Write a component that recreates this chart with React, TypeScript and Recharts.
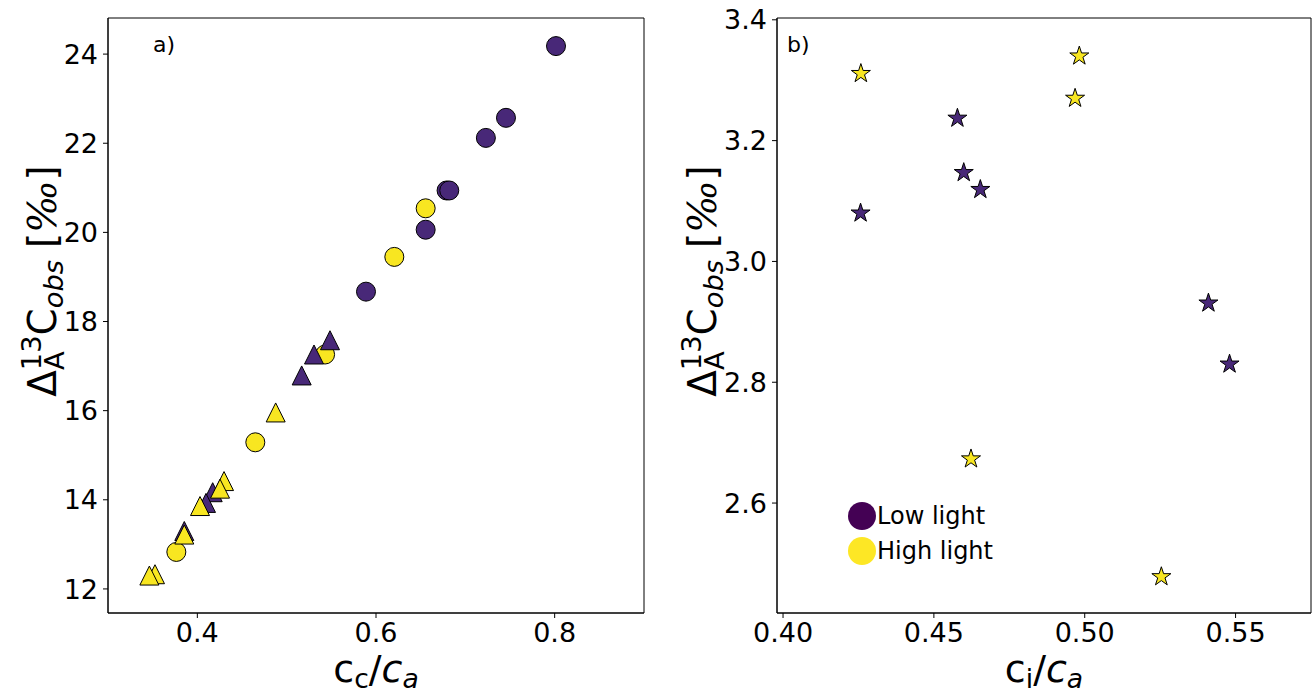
import React from 'react';
import { ScatterChart, Scatter, XAxis, YAxis, ReferenceArea, Legend } from 'recharts';

// ---------- data ----------
// Panel a): Delta vs cc/ca
const lowCircles = [
  { x: 0.8015, y: 24.18 },
  { x: 0.7455, y: 22.57 },
  { x: 0.723, y: 22.12 },
  { x: 0.679, y: 20.94 },
  { x: 0.682, y: 20.94 },
  { x: 0.6556, y: 20.06 },
  { x: 0.5888, y: 18.67 },
];
const highCircles = [
  { x: 0.6556, y: 20.54 },
  { x: 0.6205, y: 19.45 },
  { x: 0.543, y: 17.26 },
  { x: 0.4649, y: 15.29 },
  { x: 0.3765, y: 12.83 },
];
const lowTriangles = [
  { x: 0.5485, y: 17.58 },
  { x: 0.5306, y: 17.26 },
  { x: 0.5168, y: 16.79 },
  { x: 0.4172, y: 14.17 },
  { x: 0.4097, y: 13.93 },
  { x: 0.3854, y: 13.3 },
];
const highTriangles = [
  { x: 0.4877, y: 15.96 },
  { x: 0.4299, y: 14.42 },
  { x: 0.4254, y: 14.25 },
  { x: 0.403, y: 13.86 },
  { x: 0.3854, y: 13.22 },
  { x: 0.3526, y: 12.33 },
  { x: 0.3463, y: 12.3 },
];
// Panel b): Delta vs ci/ca
const lowStars = [
  { x: 0.4578, y: 3.237 },
  { x: 0.4599, y: 3.147 },
  { x: 0.4654, y: 3.119 },
  { x: 0.4257, y: 3.08 },
  { x: 0.541, y: 2.931 },
  { x: 0.548, y: 2.83 },
];
const highStars = [
  { x: 0.4258, y: 3.311 },
  { x: 0.4982, y: 3.34 },
  { x: 0.4968, y: 3.27 },
  { x: 0.4623, y: 2.673 },
  { x: 0.5254, y: 2.478 },
];

const aXTicks = [0.4, 0.6, 0.8];
const aYTicks = [12, 14, 16, 18, 20, 22, 24];
const bXTicks = [0.4, 0.45, 0.5, 0.55];
const bYTicks = [2.6, 2.8, 3.0, 3.2, 3.4];
const aXDomain = [0.3, 0.9];
const aYDomain = [11.46, 24.81];
const bXDomain = [0.398, 0.575];
const bYDomain = [2.418, 3.403];

const legendItems = [
  { label: 'Low light', color: '#440154' },
  { label: 'High light', color: '#fde725' },
];

// ---------- styles ----------
const FONT = "'DejaVu Sans', sans-serif";
const PURPLE = '#482878';
const YELLOW = '#f8e621';
const tickStyle = { fontSize: 27, fill: '#000', fontFamily: FONT };

const circleShape = (color: string) => (p: any) => (
  <circle cx={p.cx} cy={p.cy} r={9.5} fill={color} stroke="#000" strokeWidth={1} />
);
const triangleShape = (color: string) => (p: any) => {
  const h = 9.5;
  return (
    <polygon
      points={`${p.cx},${p.cy - h} ${p.cx - h},${p.cy + h} ${p.cx + h},${p.cy + h}`}
      fill={color}
      stroke="#000"
      strokeWidth={1}
      strokeLinejoin="miter"
    />
  );
};
const starShape = (color: string) => (p: any) => {
  const R = 10;
  const r = R * 0.382;
  const pts: string[] = [];
  for (let k = 0; k < 10; k++) {
    const a = ((-90 + k * 36) * Math.PI) / 180;
    const rad = k % 2 === 0 ? R : r;
    pts.push(`${p.cx + rad * Math.cos(a)},${p.cy + rad * Math.sin(a)}`);
  }
  return <polygon points={pts.join(' ')} fill={color} stroke="#000" strokeWidth={1} />;
};

const YLabel = ({ x, y }: { x: number; y: number }) => (
  <text
    x={x}
    y={y}
    transform={`rotate(-90 ${x} ${y})`}
    textAnchor="middle"
    fontFamily={FONT}
    fontSize={39}
    fill="#000"
  >
    <tspan>Δ</tspan>
    <tspan fontSize={27.3} dy={-15}>13</tspan>
    <tspan fontSize={27.3} dx={-34.7} dy={23}>A</tspan>
    <tspan dx={16} dy={-8}>C</tspan>
    <tspan fontSize={27.3} fontStyle="italic" dy={7}>obs</tspan>
    <tspan dx={12} dy={-7}>[</tspan>
    <tspan fontFamily="'DejaVu Serif', serif" fontStyle="italic">‰</tspan>
    <tspan>]</tspan>
  </text>
);

const XLabel = ({ x, y, sub }: { x: number; y: number; sub: string }) => (
  <text x={x} y={y} textAnchor="middle" fontFamily={FONT} fontSize={38} fill="#000">
    <tspan>c</tspan>
    <tspan fontSize={26.6} dy={6}>{sub}</tspan>
    <tspan dy={-6}>/</tspan>
    <tspan fontStyle="italic">c</tspan>
    <tspan fontSize={26.6} fontStyle="italic" dy={6}>a</tspan>
  </text>
);

const LegendBox = () => (
  <div style={{ fontFamily: FONT, fontSize: 24, color: '#000', lineHeight: 1 }}>
    {legendItems.map((it) => (
      <div key={it.label} style={{ display: 'flex', alignItems: 'center', height: 35 }}>
        <span
          style={{
            display: 'inline-block',
            width: 28,
            height: 28,
            borderRadius: 14,
            background: it.color,
          }}
        />
        <span style={{ marginLeft: 1 }}>{it.label}</span>
      </div>
    ))}
  </div>
);

// layout constants
const H = 697;
const TOP = 18;
const BOTTOM = 613;
const A_W = 650;
const A_LEFT = 108;
const A_RIGHT = 644;
const B_OFF = 650;
const B_W = 1314 - B_OFF;
const B_LEFT = 777 - B_OFF;
const B_RIGHT = 1311 - B_OFF;
const YLABEL_CY = 281;
const XLABEL_BASE = 682;

export default function App() {
  return (
    <div style={{ position: 'absolute', left: 0, top: 0, width: 1314, height: H, background: '#fff' }}>
      <div style={{ position: 'absolute', left: 0, top: 0 }}>
        <ScatterChart
          width={A_W}
          height={H}
          margin={{ top: TOP, right: A_W - A_RIGHT, bottom: 0, left: 0 }}
        >
          <XAxis
            type="number"
            dataKey="x"
            domain={aXDomain}
            ticks={aXTicks}
            allowDataOverflow
            interval={0}
            height={H - BOTTOM}
            tickSize={5}
            tickMargin={5}
            tick={tickStyle}
            tickFormatter={(v: number) => v.toFixed(1)}
            axisLine={{ stroke: '#000' }}
            tickLine={{ stroke: '#000' }}
            label={() => <XLabel x={(A_LEFT + A_RIGHT) / 2} y={XLABEL_BASE} sub="c" />}
          />
          <YAxis
            type="number"
            dataKey="y"
            domain={aYDomain}
            ticks={aYTicks}
            allowDataOverflow
            interval={0}
            width={A_LEFT}
            tickSize={5}
            tickMargin={5}
            tick={tickStyle}
            axisLine={{ stroke: '#000' }}
            tickLine={{ stroke: '#000' }}
            label={() => <YLabel x={56} y={YLABEL_CY} />}
          />
          <ReferenceArea
            x1={aXDomain[0]}
            x2={aXDomain[1]}
            y1={aYDomain[0]}
            y2={aYDomain[1]}
            fill="none"
            fillOpacity={0}
            stroke="#000"
            strokeWidth={1}
          />
          <Scatter data={highCircles} shape={circleShape(YELLOW)} isAnimationActive={false} />
          <Scatter data={lowCircles} shape={circleShape(PURPLE)} isAnimationActive={false} />
          <Scatter data={lowTriangles} shape={triangleShape(PURPLE)} isAnimationActive={false} />
          <Scatter data={highTriangles} shape={triangleShape(YELLOW)} isAnimationActive={false} />
          <text x={153} y={52} fontFamily={FONT} fontSize={22} fill="#000">a)</text>
        </ScatterChart>
      </div>
      <div style={{ position: 'absolute', left: B_OFF, top: 0 }}>
        <ScatterChart
          width={B_W}
          height={H}
          margin={{ top: TOP, right: B_W - B_RIGHT, bottom: 0, left: 0 }}
        >
          <XAxis
            type="number"
            dataKey="x"
            domain={bXDomain}
            ticks={bXTicks}
            allowDataOverflow
            interval={0}
            height={H - BOTTOM}
            tickSize={5}
            tickMargin={5}
            tick={tickStyle}
            tickFormatter={(v: number) => v.toFixed(2)}
            axisLine={{ stroke: '#000' }}
            tickLine={{ stroke: '#000' }}
            label={() => <XLabel x={(B_LEFT + B_RIGHT) / 2} y={XLABEL_BASE} sub="i" />}
          />
          <YAxis
            type="number"
            dataKey="y"
            domain={bYDomain}
            ticks={bYTicks}
            allowDataOverflow
            interval={0}
            width={B_LEFT}
            tickSize={5}
            tickMargin={5}
            tick={tickStyle}
            tickFormatter={(v: number) => v.toFixed(1)}
            axisLine={{ stroke: '#000' }}
            tickLine={{ stroke: '#000' }}
            label={() => <YLabel x={716 - B_OFF} y={YLABEL_CY} />}
          />
          <ReferenceArea
            x1={bXDomain[0]}
            x2={bXDomain[1]}
            y1={bYDomain[0]}
            y2={bYDomain[1]}
            fill="none"
            fillOpacity={0}
            stroke="#000"
            strokeWidth={1}
          />
          <Scatter data={lowStars} shape={starShape(PURPLE)} isAnimationActive={false} />
          <Scatter data={highStars} shape={starShape(YELLOW)} isAnimationActive={false} />
          <Legend
            layout="vertical"
            align="center"
            verticalAlign="middle"
            content={() => <LegendBox />}
            wrapperStyle={{ left: 848 - B_OFF, top: 498, width: 200, height: 70 }}
          />
        </ScatterChart>
        <svg
          style={{ position: 'absolute', left: 0, top: 0, pointerEvents: 'none' }}
          width={B_W}
          height={100}
        >
          <text x={787 - B_OFF} y={52} fontFamily={FONT} fontSize={22} fill="#000">b)</text>
        </svg>
      </div>
    </div>
  );
}
